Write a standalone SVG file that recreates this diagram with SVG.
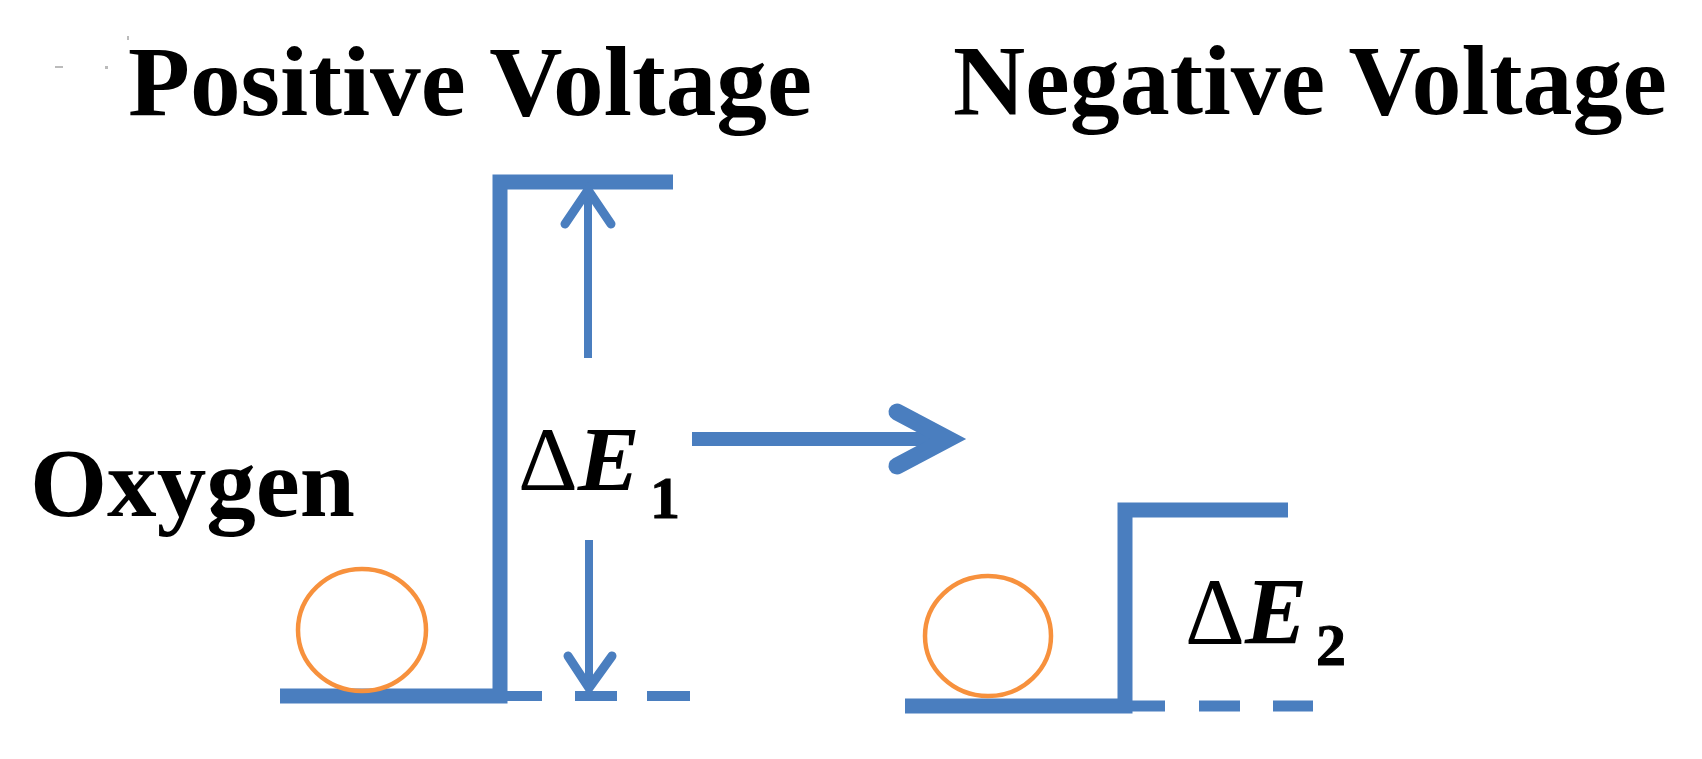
<svg xmlns="http://www.w3.org/2000/svg" width="1702" height="759" viewBox="0 0 1702 759">
<style>
.t{font-family:"Liberation Serif","Times New Roman",serif;font-weight:bold;fill:#000}
.ln{stroke:#4A7EBF;fill:none;stroke-linecap:butt}
.ah{stroke:#4A7EBF;fill:none;stroke-linecap:round;stroke-linejoin:miter}
.ball{fill:none;stroke:#F7913D;stroke-width:4.5}
.m{font-family:"Liberation Serif","DejaVu Serif",serif;fill:#000}
.sub{font-family:"Liberation Serif","DejaVu Serif",serif;fill:#000;font-weight:900;stroke:#000;stroke-width:1}
</style>
<rect width="1702" height="759" fill="#fff"/>
<g id="specks" fill="#bbb">
<rect x="55" y="66" width="8" height="2"/>
<rect x="105" y="66" width="3" height="3"/>
<rect x="127" y="36" width="2" height="4"/>
</g>
<g id="title-positive"><text class="t" x="128" y="115" font-size="100" textLength="684" lengthAdjust="spacingAndGlyphs">Positive Voltage</text></g>
<g id="title-negative"><text class="t" x="953" y="114" font-size="100" textLength="714" lengthAdjust="spacingAndGlyphs">Negative Voltage</text></g>
<g id="label-oxygen"><text class="t" x="30" y="516" font-size="98" textLength="325" lengthAdjust="spacingAndGlyphs">Oxygen</text></g>

<g id="barrier-positive">
<polyline class="ln" stroke-width="15" points="280,696 500,696 500,182 673,182"/>
<line class="ln" stroke-width="10" x1="500" y1="696" x2="542" y2="696"/>
<line class="ln" stroke-width="10" x1="575" y1="696" x2="617" y2="696"/>
<line class="ln" stroke-width="10" x1="647" y1="696" x2="690" y2="696"/>
<ellipse class="ball" cx="362" cy="630" rx="64" ry="61"/>
</g>
<g id="label-dE1">
<text class="m" x="518" y="490" font-size="92" textLength="122" lengthAdjust="spacingAndGlyphs">Δ<tspan font-weight="bold" font-style="italic">E</tspan></text>
<text class="sub" x="650" y="518" font-size="60">1</text>
</g>

<g id="barrier-negative">
<polyline class="ln" stroke-width="15" points="905,706 1125,706 1125,510 1288,510"/>
<line class="ln" stroke-width="11" x1="1125" y1="706" x2="1165" y2="706"/>
<line class="ln" stroke-width="11" x1="1199" y1="706" x2="1240" y2="706"/>
<line class="ln" stroke-width="11" x1="1273" y1="706" x2="1313" y2="706"/>
<ellipse class="ball" cx="988" cy="636" rx="63" ry="60"/>
</g>
<g id="label-dE2">
<text class="m" x="1185" y="644" font-size="96" textLength="122" lengthAdjust="spacingAndGlyphs">Δ<tspan font-weight="bold" font-style="italic">E</tspan></text>
<text class="sub" x="1316" y="665" font-size="60">2</text>
</g>

<g id="connectors">
<line class="ln" stroke-width="8" x1="588" y1="358" x2="588" y2="190"/>
<polyline class="ah" stroke-width="9" points="565,224 588,190 611,224"/>
<line class="ln" stroke-width="8" x1="589" y1="540" x2="589" y2="688"/>
<polyline class="ah" stroke-width="9" points="568,656 589,688 612,656"/>
<line class="ln" stroke-width="14" x1="692" y1="439" x2="942" y2="439"/>
<polyline class="ah" stroke-width="17" points="897,412 948,439 897,466"/>
</g>
</svg>
